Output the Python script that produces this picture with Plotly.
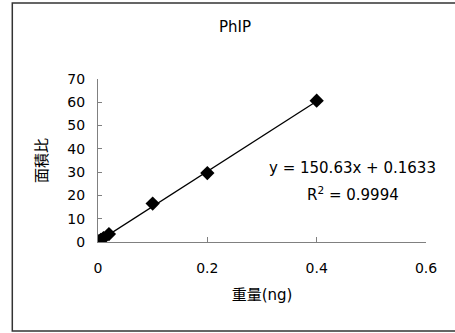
import plotly.graph_objects as go

# Calibration data: injected weight (ng) vs. peak area ratio
weight_ng = [0.001, 0.002, 0.005, 0.01, 0.02, 0.1, 0.2, 0.4]
area_ratio = [0.2, 0.35, 0.9, 1.7, 3.4, 16.5, 29.6, 60.7]

# Linear fit reported for the calibration curve
slope = 150.63
intercept = 0.1633
r_squared = 0.9994
fit_x = [0.0, 0.4]
fit_y = [slope * x + intercept for x in fit_x]

x_ticks = [0, 0.2, 0.4, 0.6]
y_ticks = [0, 10, 20, 30, 40, 50, 60, 70]

font_family = "DejaVu Sans, Noto Sans CJK JP, sans-serif"
axis_color = "#808080"

fig = go.Figure()
fig.add_trace(go.Scatter(
    x=fit_x, y=fit_y, mode="lines",
    line=dict(color="black", width=1.3),
    hoverinfo="skip", showlegend=False,
))
fig.add_trace(go.Scatter(
    x=weight_ng, y=area_ratio, mode="markers",
    marker=dict(symbol="diamond", size=11, color="black"),
    showlegend=False,
))

W, H = 455, 333
left, right, top, bottom = 97.7, 425.7, 79, 242
pw, ph = right - left, bottom - top

def px(x):
    return (x - left) / pw

def py(y):
    return (bottom - y) / ph

fig.update_layout(
    width=W, height=H,
    margin=dict(l=left, r=W - right, t=top, b=H - bottom, pad=0),
    paper_bgcolor="white", plot_bgcolor="white",
    font=dict(family=font_family, size=14, color="black"),
    title=dict(text="PhIP", xref="container", yref="container",
               x=235 / W, xanchor="center", y=1 - 27 / H, yanchor="middle",
               font=dict(size=15)),
    xaxis=dict(
        range=[0, 0.6], tickvals=x_ticks, ticktext=["0", "0.2", "0.4", "0.6"],
        showgrid=False, zeroline=False, showline=True, linecolor=axis_color, linewidth=1,
        ticks="inside", ticklen=5, tickcolor=axis_color, tickfont=dict(size=14),
        ticklabelstandoff=13,
        title=dict(text="重量(ng)", font=dict(size=15), standoff=14),
    ),
    yaxis=dict(
        range=[0, 70], tickvals=y_ticks,
        showgrid=False, zeroline=False, showline=True, linecolor=axis_color, linewidth=1,
        ticks="inside", ticklen=4, tickcolor=axis_color, tickfont=dict(size=14),
        ticklabelstandoff=9,
        title=dict(text="面積比", font=dict(size=15), standoff=16),
    ),
    annotations=[
        dict(text=f"y = {slope}x + {intercept}", xref="paper", yref="paper",
             x=px(352), y=py(168), xanchor="center", yanchor="middle",
             showarrow=False, font=dict(size=15)),
        dict(text=f"R<sup>2</sup> = {r_squared}", xref="paper", yref="paper",
             x=px(353), y=py(194), xanchor="center", yanchor="middle",
             showarrow=False, font=dict(size=15)),
    ],
    shapes=[
        dict(type="rect", xref="paper", yref="paper",
             x0=px(12), x1=px(470), y0=py(331), y1=py(3),
             line=dict(color="#333333", width=1.5), layer="below"),
    ],
)

fig.write_html("out.html")
